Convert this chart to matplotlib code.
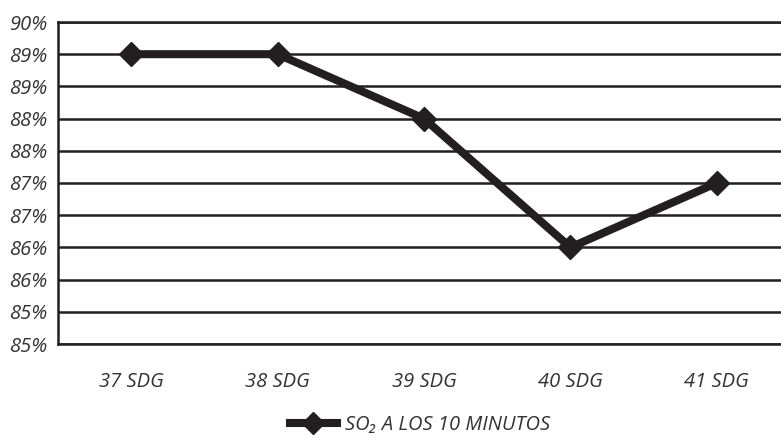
import numpy as np
import matplotlib.pyplot as plt

semanas = ["37 SDG", "38 SDG", "39 SDG", "40 SDG", "41 SDG"]
so2_10min = [0.895, 0.895, 0.885, 0.865, 0.875]
yticks = [0.85, 0.855, 0.86, 0.865, 0.87, 0.875, 0.88, 0.885, 0.89, 0.895, 0.90]
ylabels = ["85%", "85%", "86%", "86%", "87%", "87%", "88%", "88%", "89%", "89%", "90%"]

plt.rcParams['font.family'] = ['Open Sans', 'DejaVu Sans']
plt.rcParams['font.style'] = 'italic'
gris = "#333333"

fig = plt.figure(figsize=(7.81, 4.38), dpi=100)
ax = fig.add_axes([58/781, 94/438, 732/781, 322/438])

x = np.arange(len(semanas))
ax.plot(x, so2_10min, color="#231f20", lw=5.8, marker="D", ms=12,
        label="SO₂ A LOS 10 MINUTOS", zorder=3)

ax.set_xlim(-0.5, len(semanas) - 0.5)
ax.set_ylim(0.85, 0.90)
ax.set_yticks(yticks)
ax.set_yticklabels(ylabels)
ax.set_xticks(x)
ax.set_xticklabels(semanas)
ax.tick_params(length=0, labelsize=14.5, labelcolor=gris)
ax.tick_params(axis='y', pad=8)
ax.tick_params(axis='x', pad=20)
ax.yaxis.grid(True, color="#231f20", lw=1.8)
ax.set_axisbelow(True)
for s in ["left", "bottom", "top"]:
    ax.spines[s].set_linewidth(1.8)
    ax.spines[s].set_color("#231f20")
ax.spines["right"].set_visible(False)

leg = fig.legend(loc="center", bbox_to_anchor=(420/781, 13/438), frameon=False,
                 fontsize=14.5, handlelength=2.3, handletextpad=0.4, markerscale=0.9)
for t in leg.get_texts():
    t.set_color(gris)

fig.savefig("out.png", dpi=100)
